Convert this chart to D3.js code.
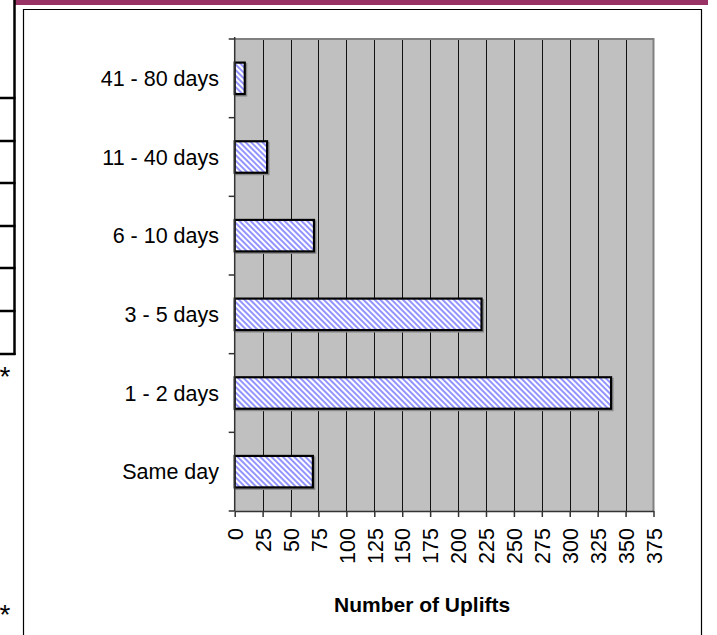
<!DOCTYPE html>
<html>
<head>
<meta charset="utf-8">
<script src="https://cdn.jsdelivr.net/npm/d3@7"></script>
<style>
  body { margin: 0; background: #fff; }
  svg { display: block; font-family: Arial, "Liberation Sans", sans-serif; }
</style>
</head>
<body>
<svg id="chart" width="717" height="635"></svg>
<script>
// data
const categories = ['Same day', '1 - 2 days', '3 - 5 days', '6 - 10 days', '11 - 40 days', '41 - 80 days'];
const uplifts = [70, 337, 221, 71, 29, 9];
const xTicks = d3.range(0, 376, 25);
const axisTitle = 'Number of Uplifts';

const svg = d3.select('#chart');

//------------------------------------------------------------------------------
// page furniture around the chart (cropped table on the left, header rule)

const deco = svg.append('g').attr('class', 'deco');
deco.append('rect')
  .attr('x', 15).attr('y', 0).attr('width', 693).attr('height', 5)
  .attr('fill', '#993366');
deco.append('line')
  .attr('x1', 14.5).attr('x2', 14.5).attr('y1', 0).attr('y2', 355)
  .attr('stroke', '#000').attr('stroke-width', 2.5);
[98, 141, 183, 226, 268, 311, 354].forEach(y => {
  deco.append('line')
    .attr('x1', 0).attr('x2', 15.5).attr('y1', y).attr('y2', y)
    .attr('stroke', '#000').attr('stroke-width', 2.5);
});
[370, 608].forEach(y => {
  deco.append('text').attr('x', 5).attr('y', y + 16)
    .attr('text-anchor', 'middle').attr('font-size', 28).text('*');
});
// chart frame, open at the bottom where the page is cut
deco.append('path')
  .attr('d', 'M23.5,640V9.5H701.5V640')
  .attr('fill', 'none').attr('stroke', '#000').attr('stroke-width', 1.2);

//------------------------------------------------------------------------------

const plot = { left: 234.7, right: 653.5, top: 39, bottom: 511 };

const x = d3.scaleLinear().domain([0, 375]).range([plot.left, plot.right]);
const y = d3.scaleBand()
  .domain(categories.slice().reverse())
  .range([plot.top, plot.bottom])
  .paddingInner(0.6).paddingOuter(0.3);

const defs = svg.append('defs');
const pat = defs.append('pattern')
  .attr('id', 'hatch')
  .attr('patternUnits', 'userSpaceOnUse')
  .attr('width', 4).attr('height', 4)
  .attr('patternTransform', 'rotate(-45)');
pat.append('rect').attr('width', 4).attr('height', 4).attr('fill', '#ffffff');
pat.append('rect').attr('width', 2).attr('height', 4).attr('fill', '#9494ff');

// plot background
svg.append('rect')
  .attr('x', plot.left).attr('y', plot.top)
  .attr('width', plot.right - plot.left).attr('height', plot.bottom - plot.top)
  .attr('fill', '#c0c0c0');

// vertical gridlines
svg.append('g').attr('class', 'grid')
  .selectAll('line')
  .data(xTicks.slice(1, -1))
  .join('line')
  .attr('x1', d => Math.round(x(d)) + 0.5).attr('x2', d => Math.round(x(d)) + 0.5)
  .attr('y1', plot.top).attr('y2', plot.bottom)
  .attr('stroke', '#111').attr('stroke-width', 1);

// plot border
svg.append('path')
  .attr('d', `M${plot.left},${plot.top}H${plot.right}V${plot.bottom}`)
  .attr('fill', 'none').attr('stroke', '#808080').attr('stroke-width', 2);

// bars
const bars = svg.append('g').attr('class', 'bars');
bars.selectAll('rect.shadow')
  .data(categories)
  .join('rect')
  .attr('class', 'shadow')
  .attr('x', x(0) + 1.5)
  .attr('y', d => y(d) + 1.5)
  .attr('width', (d, i) => x(uplifts[i]) - x(0))
  .attr('height', y.bandwidth())
  .attr('fill', 'none').attr('stroke', '#8a8a8a').attr('stroke-width', 2);
bars.selectAll('rect.bar')
  .data(categories)
  .join('rect')
  .attr('class', 'bar')
  .attr('x', x(0))
  .attr('y', d => y(d))
  .attr('width', (d, i) => x(uplifts[i]) - x(0))
  .attr('height', y.bandwidth())
  .attr('fill', 'url(#hatch)').attr('stroke', '#000').attr('stroke-width', 2.2);

// y axis: ticks at band boundaries
const boundaries = d3.range(categories.length + 1).map(i => plot.top + i * y.step());
const gY = svg.append('g').attr('class', 'y-axis');
gY.append('line')
  .attr('x1', plot.left).attr('x2', plot.left)
  .attr('y1', plot.top - 2).attr('y2', plot.bottom)
  .attr('stroke', '#333').attr('stroke-width', 1.5);
gY.selectAll('line.tick')
  .data(boundaries)
  .join('line')
  .attr('class', 'tick')
  .attr('x1', plot.left - 6).attr('x2', plot.left)
  .attr('y1', d => d).attr('y2', d => d)
  .attr('stroke', '#333').attr('stroke-width', 1.5);
gY.selectAll('text')
  .data(categories)
  .join('text')
  .attr('x', 219)
  .attr('y', d => y(d) + y.bandwidth() / 2)
  .attr('dy', '0.36em')
  .attr('text-anchor', 'end')
  .attr('font-size', 21.5)
  .attr('fill', '#000')
  .text(d => d);

// x axis
const xAxis = d3.axisBottom(x).tickValues(xTicks).tickSize(6).tickSizeOuter(0);
const gX = svg.append('g')
  .attr('class', 'x-axis')
  .attr('transform', `translate(0,${plot.bottom})`)
  .call(xAxis);
gX.select('.domain').attr('stroke', '#333').attr('stroke-width', 1.5);
gX.selectAll('.tick line').attr('stroke', '#333').attr('stroke-width', 1.5);
gX.selectAll('.tick text')
  .attr('font-size', 21.5)
  .attr('font-family', 'Arial, "Liberation Sans", sans-serif')
  .attr('fill', '#000')
  .attr('text-anchor', 'end')
  .attr('transform', 'translate(0,17) rotate(-90)')
  .attr('x', 0).attr('y', 0)
  .attr('dy', '0.36em');

// axis title
svg.append('text')
  .attr('x', (plot.left + plot.right) / 2 - 22)
  .attr('y', 612)
  .attr('text-anchor', 'middle')
  .attr('font-size', 21)
  .attr('font-weight', 'bold')
  .text(axisTitle);
</script>
</body>
</html>
